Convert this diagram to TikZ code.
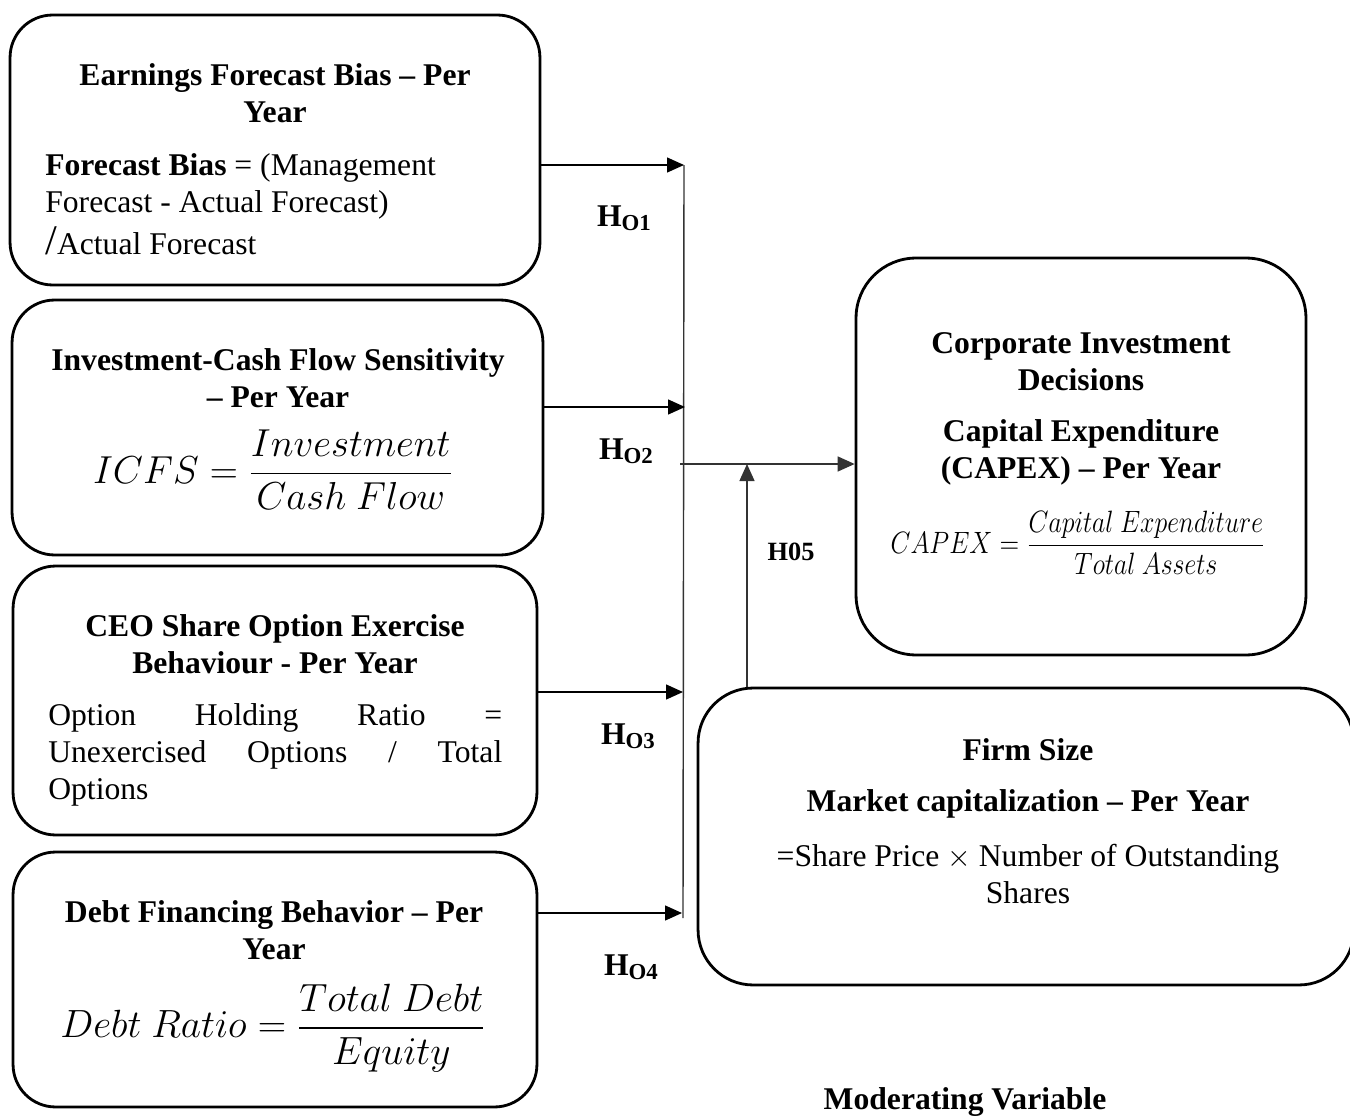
\documentclass[tikz,border=0pt]{standalone}
\usepackage{amsmath,amssymb}
\usepackage{fontspec}
\setmainfont{Liberation Serif}
\usepackage{tikz}
\usetikzlibrary{arrows.meta}
\usetikzlibrary{positioning}

\newcommand{\hsub}[1]{H\raisebox{-0.12em}{\fontsize{13}{13}\selectfont O#1}}

\begin{document}
\begin{tikzpicture}[x=0.02cm,y=-0.02cm,
  box/.style={draw,line width=1.6pt,rounded corners=0.85cm},
  ttl/.style={align=center,inner sep=0pt,font=\fontsize{18}{21}\selectfont\bfseries},
  txt/.style={align=left,inner sep=0pt,font=\fontsize{18}{21}\selectfont},
  frm/.style={inner sep=0pt,font=\fontsize{20.74}{25}\selectfont},
  hyp/.style={inner sep=0pt,font=\fontsize{18}{21}\selectfont\bfseries},
  arr/.style={-{Triangle[length=0.34cm,width=0.3cm]},line width=0.8pt}]
  \useasboundingbox (0,0) rectangle (1350,1119);

  %left
  \node[box,minimum width=10.6cm,minimum height=5.4cm] (efb) at (275,150) {};
  \node[ttl] (efb-t) at (275,93) {Earnings Forecast Bias -- Per\\Year};
  \node[txt,anchor=west] (efb-b) at (45,204) {\textbf{Forecast Bias} = (Management\\Forecast - Actual Forecast)\\[3pt]{\fontsize{24}{21}\selectfont/}Actual Forecast};

  \node[box,minimum width=10.62cm,minimum height=5.1cm] (icf) at (277.5,427.5) {};
  \node[ttl] (icf-t) at (278,378) {Investment-Cash Flow Sensitivity\\-- Per Year};
  \node[frm] (icf-f) at (273,470) {\scalebox{1.07}{$\displaystyle ICFS = \frac{Investment}{Cash\ Flow}$}};

  \node[box,minimum width=10.48cm,minimum height=5.38cm] (ceo) at (275,700.5) {};
  \node[ttl] (ceo-t) at (275,644) {CEO Share Option Exercise\\Behaviour - Per Year};
  \node[txt,text width=9.08cm,anchor=west] (ceo-b) at (48,755) {Option\hfill Holding\hfill Ratio\hfill =\\Unexercised\hfill Options\hfill /\hfill Total\\Options};

  \node[box,minimum width=10.48cm,minimum height=5.1cm] (dfb) at (275,979.5) {};
  \node[ttl] (dfb-t) at (274,930) {Debt Financing Behavior -- Per\\Year};
  \node[frm] (dfb-f) at (273,1028) {\scalebox{1.08}{$\displaystyle Debt\ Ratio = \frac{Total\ Debt}{Equity}$}};

  %right
  \node[box,rounded corners=1.2cm,minimum width=9cm,minimum height=7.94cm] (cid) at (1081,456.5) {};
  \node[ttl] (cid-t) at (1081,362) {Corporate Investment\\Decisions};
  \node[ttl] (cid-s) at (1081,452) {Capital Expenditure\\(CAPEX) -- Per Year};
  \node[inner sep=0pt,font=\fontsize{14.4}{18}\selectfont] (cid-f) at (1078,543) {\scalebox{1.02}[1.22]{$\displaystyle CAPEX = \frac{Capital\ Expenditure}{Total\ Assets}$}};

  %bottom
  \node[box,rounded corners=1.1cm,minimum width=13.12cm,minimum height=5.94cm] (fsz) at (1026,836.5) {};
  \node[ttl] (fsz-t) at (1028,750) {Firm Size};
  \node[ttl] (fsz-s) at (1028,804) {Market capitalization -- Per Year};
  \node[txt,align=center] (fsz-b) at (1028,874) {=Share Price $\times$ Number of Outstanding\\Shares};
  \node[ttl] (mod) at (965,1102) {Moderating Variable};

  %links
  \coordinate (vt) at (684,165);
  \coordinate (vb) at (683,918);
  \coordinate (p2) at (685,407);
  \coordinate (p3) at (683,692);
  \coordinate (p4) at (682,913);
  \coordinate (jn) at (680,464);
  \coordinate (md) at (747,464);
  \draw[line width=0.8pt,black!80] (vt) -- (vb);
  \draw[arr] (efb.east |- vt) -- (vt);
  \draw[arr] (icf.east |- p2) -- (p2);
  \draw[arr] (ceo.east |- p3) -- (p3);
  \draw[arr] (dfb.east |- p4) -- (p4);
  \draw[arr,black!80] (jn) -- (jn -| cid.west);
  \draw[arr,black!80] (md |- fsz.north) -- (md);

  \node[hyp] (h1) at (624,218) {\hsub{1}};
  \node[hyp] (h2) at (626,451) {\hsub{2}};
  \node[hyp] (h3) at (628,736) {\hsub{3}};
  \node[hyp] (h4) at (631,967) {\hsub{4}};
  \node[hyp,font=\fontsize{15}{18}\selectfont\bfseries] (h5) at (791,552) {H05};
\end{tikzpicture}
\end{document}
